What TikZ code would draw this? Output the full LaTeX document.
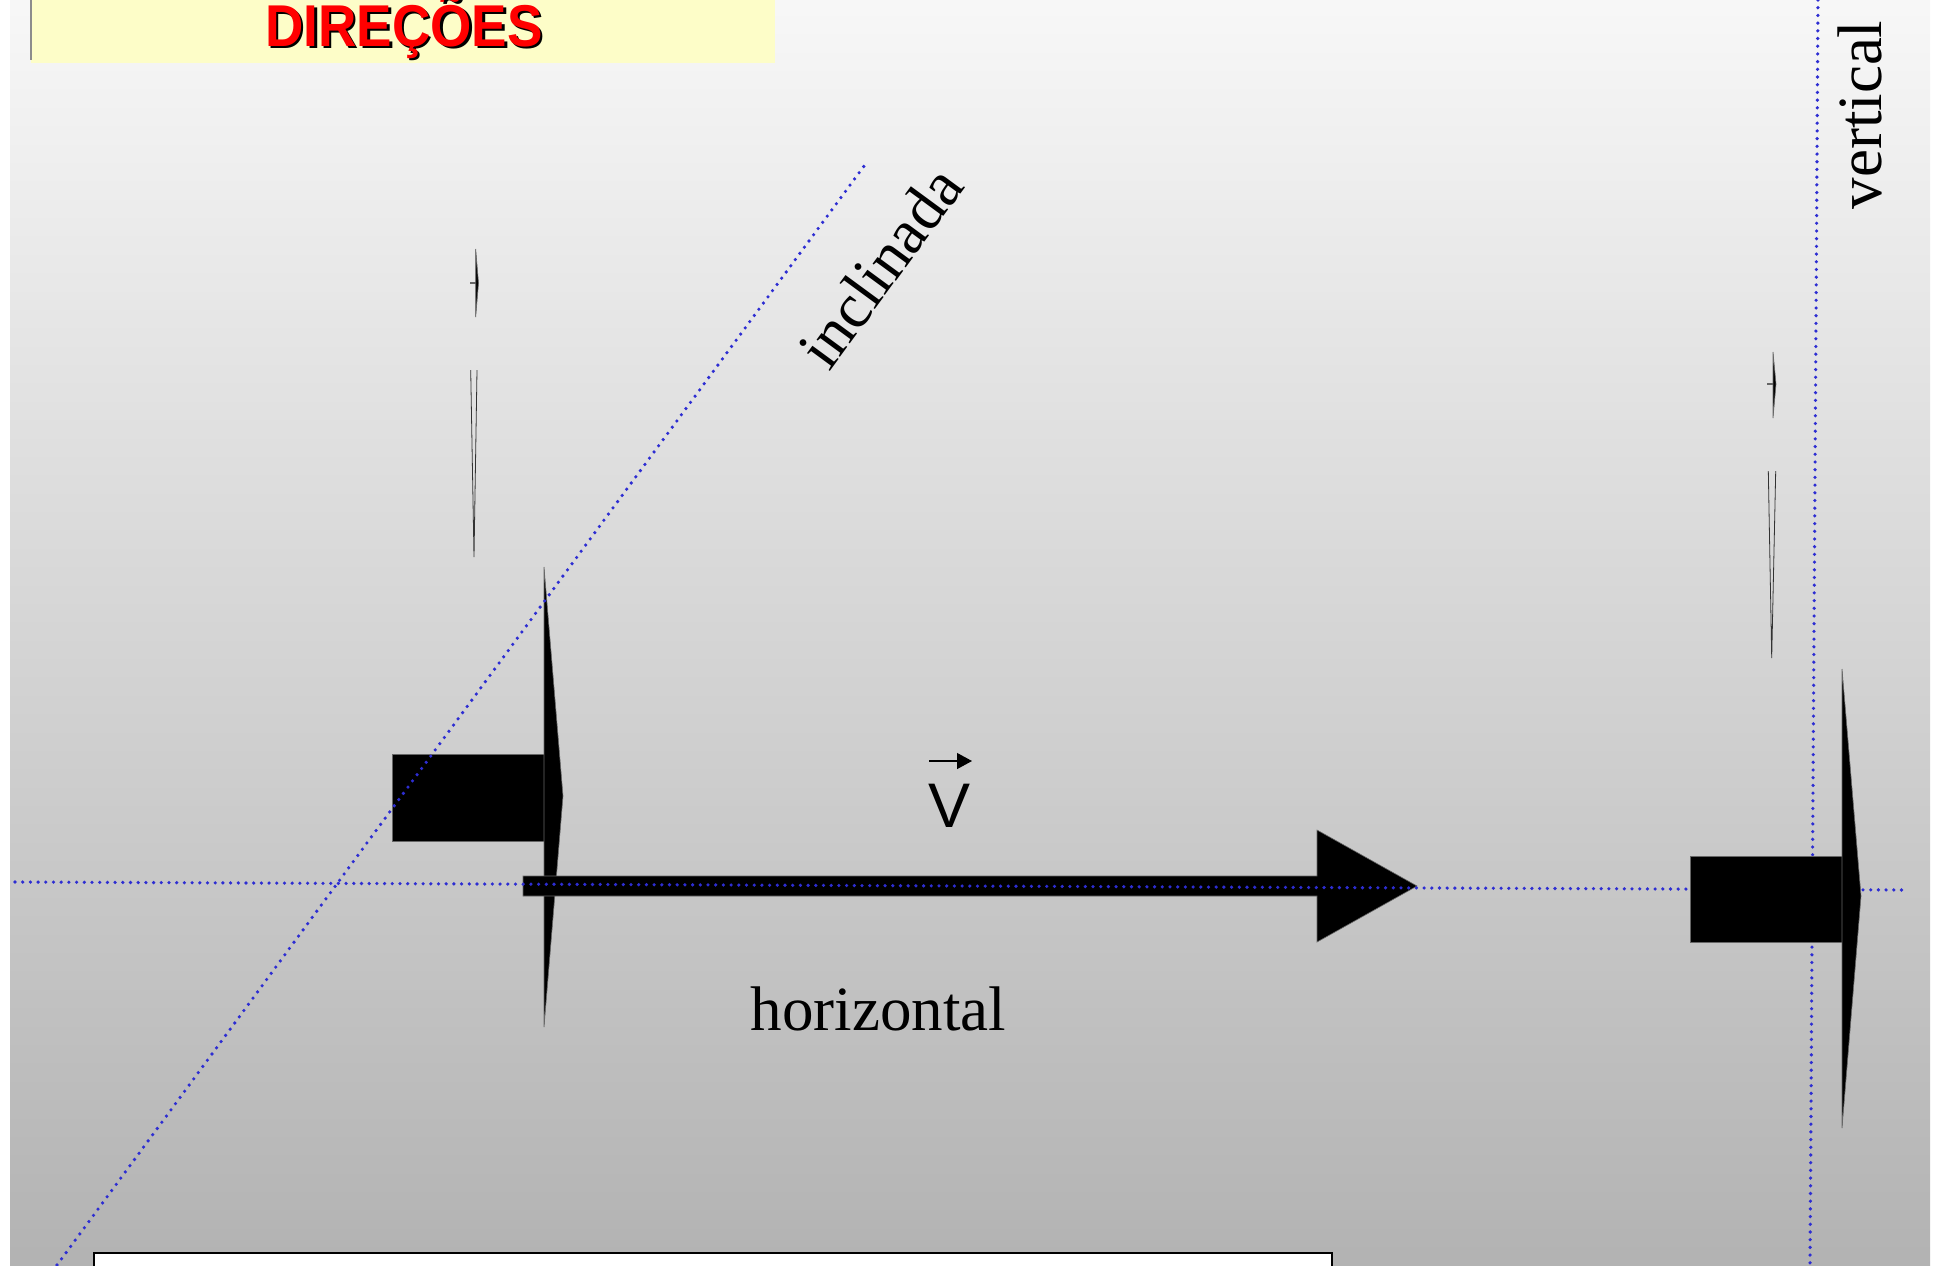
\documentclass[tikz,border=0pt]{standalone}
\usepackage{fontspec}
\setmainfont{Liberation Serif}
\newfontfamily\arialfont{Liberation Sans}
\usetikzlibrary{arrows.meta}
\definecolor{dotblue}{RGB}{45,45,210}
\definecolor{titlefill}{RGB}{253,253,200}
\definecolor{titlered}{RGB}{255,0,0}
\tikzset{
  guide/.style={dotblue,line width=1.8pt,line cap=round,dash pattern=on 0pt off 3.85pt},
  solid shape/.style={fill=black,draw=black!60,line width=0.3pt},
  thin blade/.style={draw=black!80,line width=0.4pt},
  tick/.style={draw=black!60,line width=1pt}
}
\begin{document}
\begin{tikzpicture}[x=0.5pt,y=-0.5pt,line width=0.4pt,every node/.style={inner sep=0pt,font=\fontsize{31.5}{36}\selectfont}]
\useasboundingbox (0,0) rectangle (1939,1265);
\shade[top color=black!3,bottom color=black!30] (10,0) rectangle (1930,1265);
\fill[titlefill] (31,0) rectangle (775,63);
\draw[black!45,line width=1pt] (31,0) -- (31,60);
\node[anchor=base,black] (titleshadow) at (406.5,48.5) {\arialfont\fontsize{29.5}{32}\selectfont\bfseries\scalebox{0.9}[1]{DIREÇÕES}};
\node[anchor=base,titlered] (title) at (404,46) {\arialfont\fontsize{29.5}{32}\selectfont\bfseries\scalebox{0.9}[1]{DIREÇÕES}};
\coordinate (hA) at (15,882);
\coordinate (hB) at (1907,890);
\coordinate (iA) at (57,1265);
\coordinate (iB) at (867,162);
\coordinate (vA) at (1818,0);
\coordinate (vB) at (1810,1265);
\coordinate (varrA) at (929,761);
\coordinate (varrB) at (972,761);
\path[solid shape] (392,754) rectangle (544,841);
\path[solid shape] (544,567) -- (563,796) -- (544,1027) -- cycle;
\path[solid shape] (523,876) -- (1317,876) -- (1317,830) -- (1417,886) -- (1317,942) -- (1317,896) -- (523,896) -- cycle;
\draw[tick] (470,283) -- (476,283);
\path[solid shape] (475.7,249) -- (478.5,283) -- (475.7,317) -- cycle;
\draw[thin blade] (470.7,370) -- (474,557) -- (477,370);
\draw[tick] (1767,384) -- (1773,384);
\path[solid shape] (1773,352) -- (1776,384) -- (1773,418) -- cycle;
\draw[thin blade] (1768.3,471) -- (1771.7,658) -- (1775.7,471);
\draw[guide] (hA) -- (hB);
\draw[guide] (iA) -- (iB);
\draw[guide] (vA) -- (vB);
\path[solid shape] (1690,856) rectangle (1842,942);
\path[solid shape] (1842,669) -- (1861,896) -- (1842,1128) -- cycle;
\fill[white] (94,1253) rectangle (1332,1270);
\draw[line width=1pt] (94,1270) -- (94,1253) -- (1332,1253) -- (1332,1270);
\node[anchor=base] (horizlbl) at (878.5,1030) {horizontal};
\node[rotate=53.7] (inclinlbl) at (880,267) {inclinada};
\node[rotate=90] (vertlbl) at (1859.5,115) {vertical};
\node[anchor=base] (vlbl) at (950,827) {\arialfont V};
\draw[line width=0.65pt,-{Triangle[length=7.5pt,width=8pt]}] (varrA) -- (varrB);
\end{tikzpicture}
\end{document}
